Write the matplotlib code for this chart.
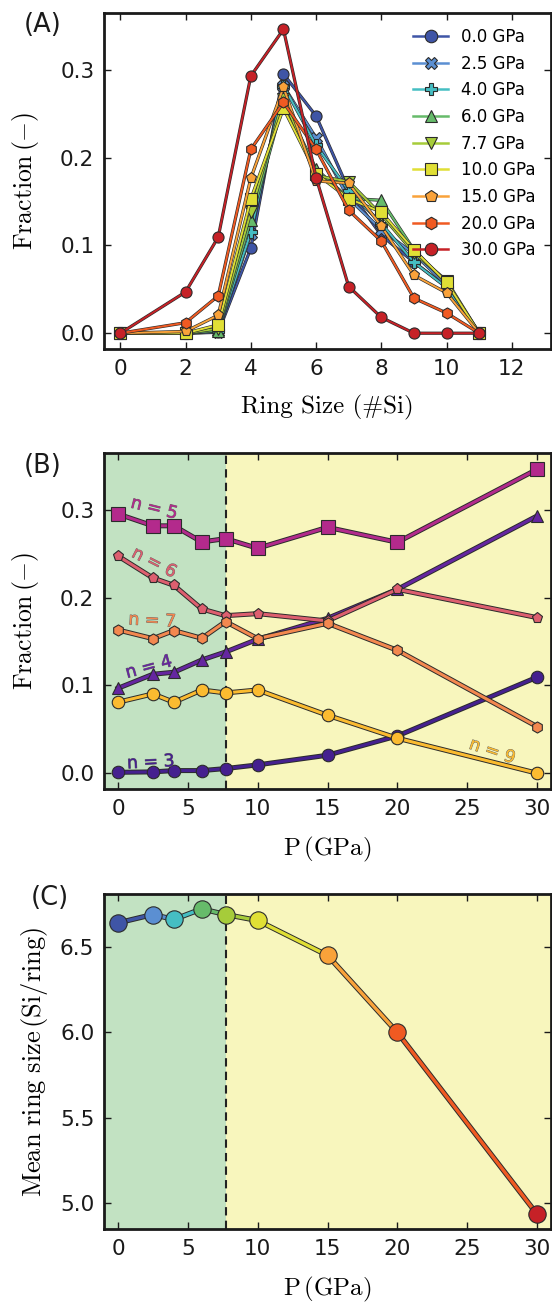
import matplotlib
matplotlib.use("Agg")
import matplotlib.pyplot as plt
import matplotlib.patheffects as pe
from matplotlib.lines import Line2D

plt.rcParams["mathtext.fontset"] = "cm"
plt.rcParams["font.family"] = ["DejaVu Sans"]

# ---- data -------------------------------------------------------------
pressures = [0.0, 2.5, 4.0, 6.0, 7.7, 10.0, 15.0, 20.0, 30.0]
pressure_labels = ["0.0 GPa", "2.5 GPa", "4.0 GPa", "6.0 GPa", "7.7 GPa",
                   "10.0 GPa", "15.0 GPa", "20.0 GPa", "30.0 GPa"]
pressure_colors = ["#3f55a6", "#5b8fd2", "#45bec3", "#66bb6a", "#a6cc3a",
                   "#e0df35", "#f9a23a", "#f05a22", "#c62127"]
pressure_markers = ["o", "X", "P", "^", "v", "s", "p", "h", "o"]

ring_sizes = [0, 2, 3, 4, 5, 6, 7, 8, 9, 10, 11]

# fraction of rings of each size, one value per pressure
frac_n0 = [0.0, 0.0, 0.0, 0.0, 0.0, 0.0, 0.0, 0.0, 0.0]
frac_n2 = [0.0, 0.0, 0.0, 0.0, 0.0, 0.0, 0.002, 0.012, 0.047]
frac_n3 = [0.001, 0.0015, 0.003, 0.003, 0.0053, 0.0095, 0.0205, 0.0425, 0.1094]
frac_n4 = [0.0968, 0.1128, 0.1151, 0.1291, 0.1382, 0.1527, 0.1766, 0.2096, 0.2932]
frac_n5 = [0.2955, 0.282, 0.282, 0.2636, 0.2674, 0.2564, 0.2803, 0.2632, 0.3464]
frac_n6 = [0.2476, 0.2226, 0.2142, 0.1872, 0.1796, 0.1819, 0.1736, 0.2096, 0.1774]
frac_n7 = [0.1633, 0.1534, 0.1626, 0.1538, 0.1728, 0.1534, 0.1709, 0.1401, 0.0532]
frac_n8 = [0.1115, 0.118, 0.125, 0.1515, 0.135, 0.138, 0.122, 0.105, 0.018]
frac_n9 = [0.0809, 0.0904, 0.0809, 0.0949, 0.0915, 0.0949, 0.0661, 0.0399, 0.0]
frac_n10 = [0.053, 0.055, 0.052, 0.057, 0.060, 0.058, 0.046, 0.023, 0.0]
frac_n11 = [0.0, 0.0, 0.0, 0.0, 0.0, 0.0, 0.0, 0.0, 0.0]

mean_ring_size = [6.641, 6.690, 6.661, 6.723, 6.690, 6.655, 6.451, 6.000, 4.937]

transition_pressure = 7.7

fractions = {0: frac_n0, 2: frac_n2, 3: frac_n3, 4: frac_n4, 5: frac_n5,
             6: frac_n6, 7: frac_n7, 8: frac_n8, 9: frac_n9, 10: frac_n10,
             11: frac_n11}

# rings shown in panel B: (size, colour, marker, marker size)
ring_series = [
    (3, "#45208f", "o", 9),
    (4, "#6526a0", "^", 9),
    (5, "#b32a8c", "s", 9.5),
    (6, "#dd5f6f", "p", 8),
    (7, "#f3884f", "h", 8),
    (9, "#fbbb30", "o", 9),
]
# in-plot labels: (size, x, y, rotation)
ring_labels = [
    (5, 2.6, 0.302, -14),
    (6, 2.6, 0.240, -27),
    (7, 2.45, 0.174, -3),
    (4, 2.2, 0.121, 15),
    (3, 2.35, 0.0125, 3),
    (9, 26.8, 0.025, -19),
]

GREEN = "#c2e2c2"
YELLOW = "#f8f6bd"
EDGE = "#2b2b2b"


def outline(w):
    return [pe.Stroke(linewidth=w, foreground=EDGE), pe.Normal()]


def style_axes(ax):
    for s in ax.spines.values():
        s.set_linewidth(2.0)
        s.set_color("#1a1a1a")
    ax.tick_params(direction="in", top=True, right=True, length=5, width=1,
                   labelsize=15.5, pad=7, colors="#1a1a1a")


W, H = 552, 1302
fig = plt.figure(figsize=(W / 100, H / 100), dpi=100)

left = 104 / W
width = (551 - 104) / W


def axes_at(top_px, bottom_px):
    return fig.add_axes([left, 1 - bottom_px / H, width, (bottom_px - top_px) / H])


axA = axes_at(13, 349)
axB = axes_at(453, 789)
axC = axes_at(894, 1229)

# ---- (A) ring size distribution --------------------------------------
handles = []
for j, p in enumerate(pressures):
    ys = [fractions[r][j] for r in ring_sizes]
    z = 2 + 0.1 * j
    axA.plot(ring_sizes, ys, color=pressure_colors[j], lw=1.4, zorder=z,
             path_effects=outline(2.3))
    axA.plot(ring_sizes, ys, ls="none", marker=pressure_markers[j], ms=8,
             mfc=pressure_colors[j], mec=EDGE, mew=0.8, zorder=z + 0.05)
    handles.append(Line2D([], [], color=pressure_colors[j], lw=1.8,
                          marker=pressure_markers[j], ms=9,
                          mfc=pressure_colors[j], mec=EDGE, mew=0.8,
                          label=pressure_labels[j]))
axA.set_xlim(-0.5, 13.2)
axA.set_ylim(-0.018, 0.365)
axA.set_xticks([0, 2, 4, 6, 8, 10, 12])
axA.set_yticks([0.0, 0.1, 0.2, 0.3])
axA.set_xlabel("Ring Size (#Si)", family="cmr10", fontsize=18, labelpad=12)
axA.set_ylabel(r"$\mathrm{Fraction\,(-)}$", fontsize=18.5, labelpad=14)
axA.legend(handles=handles, loc="upper right", frameon=False, fontsize=12,
           handlelength=2.1, labelspacing=0.52, borderaxespad=0.5,
           handletextpad=0.8)
style_axes(axA)

# ---- (B) fraction vs pressure -----------------------------------------
for ax in (axB, axC):
    ax.axvspan(-1, transition_pressure, color=GREEN, zorder=0, lw=0)
    ax.axvspan(transition_pressure, 31, color=YELLOW, zorder=0, lw=0)
    ax.axvline(transition_pressure, color="#222222", ls="--", lw=1.5,
               dashes=(4, 2.5), zorder=1)

colors_by_ring = {}
for k, (n, c, m, ms) in enumerate(ring_series):
    colors_by_ring[n] = c
    z = 3 + 0.1 * k
    axB.plot(pressures, fractions[n], color=c, lw=2.2, zorder=z,
             path_effects=outline(3.6))
    axB.plot(pressures, fractions[n], ls="none", marker=m, ms=ms,
             mfc=c, mec=EDGE, mew=0.8, zorder=z + 0.05)
for n, x, y, rot in ring_labels:
    axB.text(x, y, f"n = {n}", color=colors_by_ring[n], fontsize=12.5,
             rotation=rot, ha="center", va="center", zorder=5,
             path_effects=[pe.withStroke(linewidth=0.6, foreground="#666666")])
axB.set_xlim(-1, 31)
axB.set_ylim(-0.018, 0.365)
axB.set_xticks([0, 5, 10, 15, 20, 25, 30])
axB.set_yticks([0.0, 0.1, 0.2, 0.3])
axB.set_xlabel(r"$\mathrm{P\,(GPa)}$", fontsize=18, labelpad=12)
axB.set_ylabel(r"$\mathrm{Fraction\,(-)}$", fontsize=18.5, labelpad=14)
style_axes(axB)

# ---- (C) mean ring size ------------------------------------------------
for i in range(len(pressures) - 1):
    axC.plot(pressures[i:i + 2], mean_ring_size[i:i + 2],
             color=pressure_colors[i], lw=2.4, zorder=3,
             solid_capstyle="butt", path_effects=outline(3.8))
for j, p in enumerate(pressures):
    axC.plot([p], [mean_ring_size[j]], marker="o", ms=12.5,
             mfc=pressure_colors[j], mec=EDGE, mew=0.8, ls="none", zorder=4)
axC.set_xlim(-1, 31)
axC.set_ylim(4.85, 6.81)
axC.set_xticks([0, 5, 10, 15, 20, 25, 30])
axC.set_yticks([5.0, 5.5, 6.0, 6.5])
axC.set_xlabel(r"$\mathrm{P\,(GPa)}$", fontsize=18, labelpad=12)
axC.set_ylabel(r"$\mathrm{Mean\ ring\ size\,(Si/ring)}$", fontsize=19,
               labelpad=7)
style_axes(axC)

# panel letters
for lab, xpx, ypx in (("(A)", 43, 25), ("(B)", 43, 466), ("(C)", 50, 898)):
    fig.text(xpx / W, 1 - ypx / H, lab, fontsize=18.5, ha="center",
             va="center", color="#1a1a1a")

fig.savefig("out.png", dpi=100)
